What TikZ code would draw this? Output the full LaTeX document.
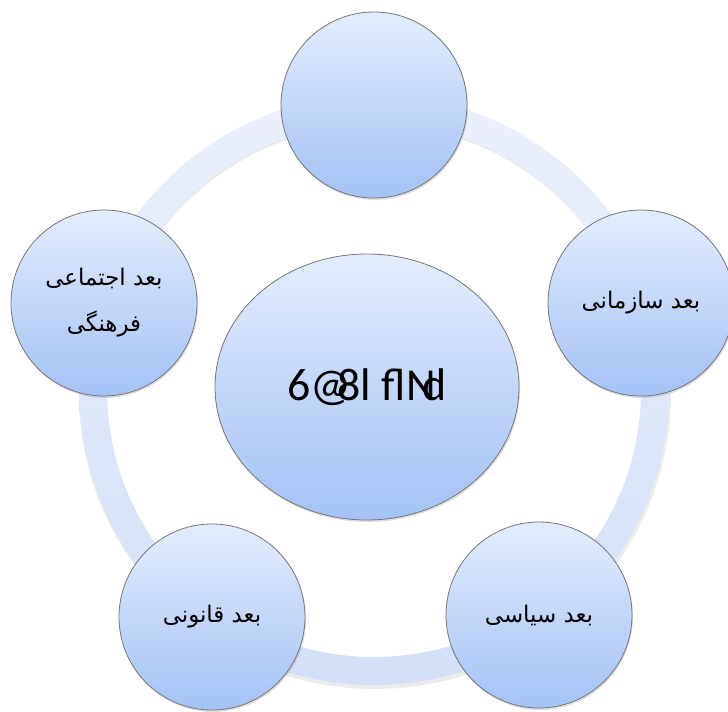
\documentclass[tikz,border=0pt]{standalone}
\usepackage{fontspec}
\TeXXeTstate=1
\newfontfamily\arabicfont[Script=Arabic]{DejaVu Sans}
\newfontfamily\latinfont{Carlito}
\usetikzlibrary{shapes.geometric,shadows,calc}
\definecolor{ringtop}{HTML}{EBF0FB}
\definecolor{ringbot}{HTML}{D3DFF6}
\definecolor{fillA}{HTML}{E3ECFC}
\definecolor{fillB}{HTML}{A4C2F6}
\definecolor{rimgray}{HTML}{777777}
\begin{document}
\begin{tikzpicture}[x=1bp,y=-1bp,
  dim/.style={circle, draw=rimgray, line width=0.8bp, top color=fillA, bottom color=fillB,
    minimum size=186bp, inner sep=0pt, align=center,
    font=\arabicfont\fontsize{23}{46}\selectfont,
    drop shadow={opacity=0.25, shadow xshift=1bp, shadow yshift=-2bp}},
  hub/.style={ellipse, draw=rimgray, line width=0.8bp, top color=fillA, bottom color=fillB,
    minimum width=304bp, minimum height=266bp, inner sep=0pt,
    font=\latinfont\fontsize{46}{50}\selectfont,
    drop shadow={opacity=0.25, shadow xshift=1bp, shadow yshift=-2bp}}]
\useasboundingbox (0,0) rectangle (728,712);
\fill[white] (0,0) rectangle (728,712);

\coordinate (ring) at (374,390);
\fill[black, opacity=0.08, even odd rule] ($(ring)+(1,3)$) circle (296) ($(ring)+(1,3)$) circle (268);
\shade[even odd rule, top color=ringtop, bottom color=ringbot] (ring) circle (295) (ring) circle (267);

\node[dim] (top) at (374,105) {};
\node[dim] (org) at (641,303) {\beginR بعد سازمانی\endR};
\node[dim] (pol) at (539,615) {\beginR بعد سیاسی\endR};
\node[dim] (law) at (212,617) {\beginR بعد قانونی\endR};
\node[dim] (soc) at (104,303) {\beginR بعد اجتماعی\endR\\\beginR فرهنگی\endR};

\node[hub] (core) at (367,387) {6@\kern-.3em8l fl\kern.02emN\kern-.3emd};
\end{tikzpicture}
\end{document}
